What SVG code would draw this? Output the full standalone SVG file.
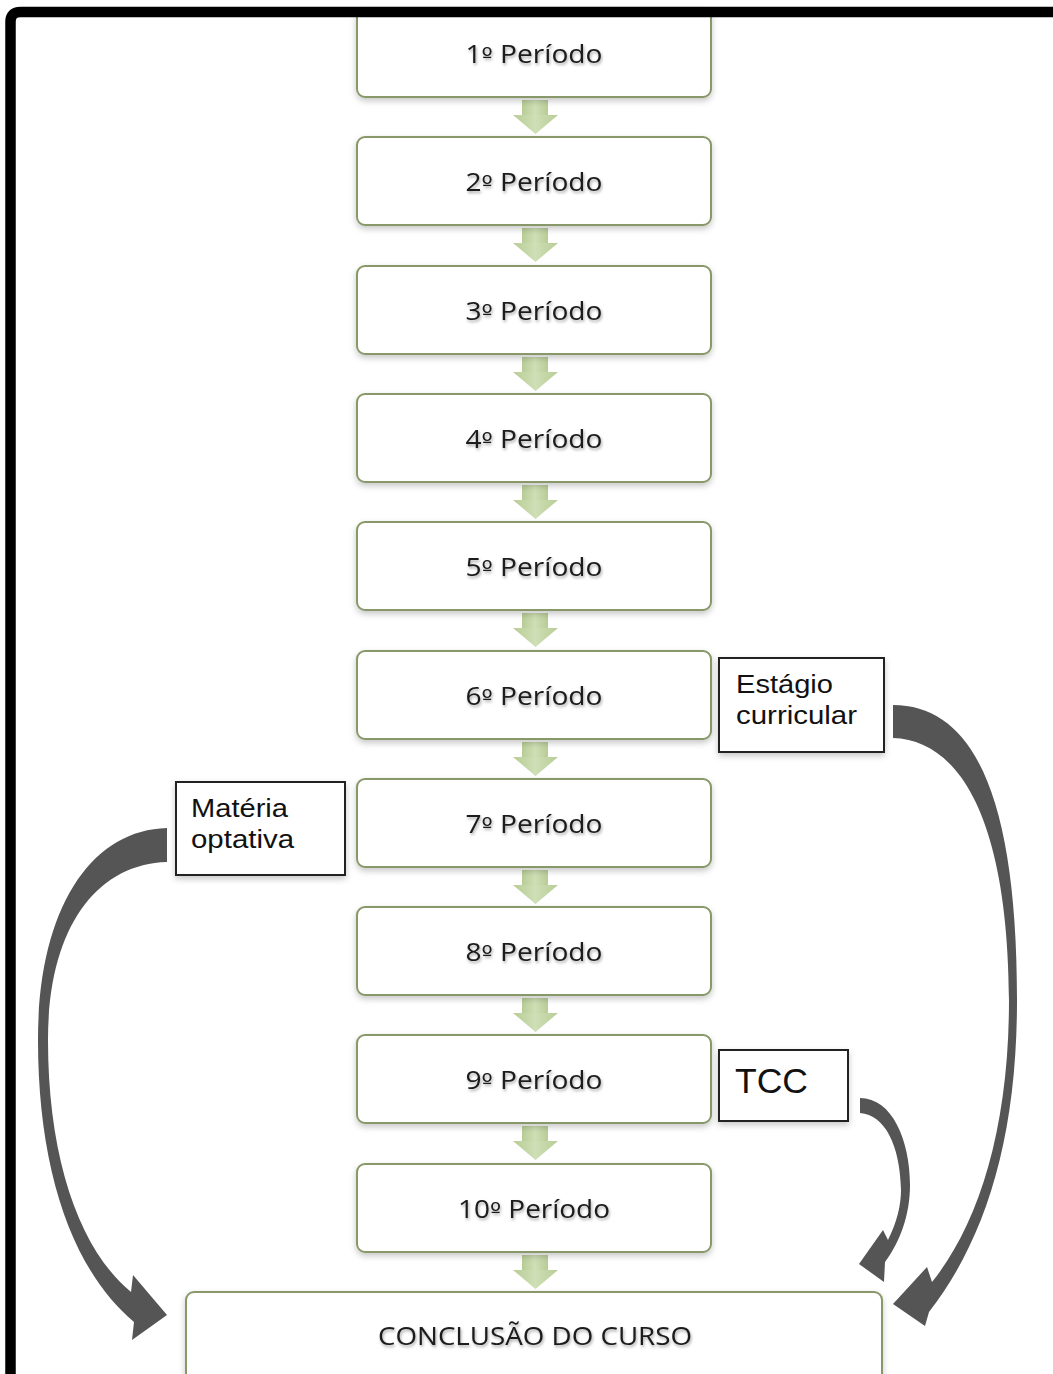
<svg xmlns="http://www.w3.org/2000/svg" width="1053" height="1374" viewBox="0 0 1053 1374">
<defs>
<filter id="sh" x="-10%" y="-10%" width="120%" height="130%">
<feDropShadow dx="0" dy="3" stdDeviation="3" flood-color="#000" flood-opacity="0.22"/>
</filter>
<filter id="tsh" x="-10%" y="-30%" width="120%" height="160%">
<feDropShadow dx="1" dy="2" stdDeviation="1.5" flood-color="#000" flood-opacity="0.35"/>
</filter>
<linearGradient id="gg" x1="0" y1="0" x2="1" y2="0">
<stop offset="0" stop-color="#b7cc95"/>
<stop offset="0.5" stop-color="#cfdfb6"/>
<stop offset="1" stop-color="#b7cc95"/>
</linearGradient>
<g id="garrow">
<rect x="522" y="3" width="26" height="16" fill="url(#gg)"/>
<polygon points="513,18 558,18 535.5,37" fill="url(#gg)"/>
</g>
</defs>
<style>
.pbox{fill:#fff;stroke:#889868;stroke-width:2;}
.ptxt{font-family:"Open Sans","Noto Sans",sans-serif;font-size:26px;fill:#1a1a1a;text-anchor:middle;}
.ord{font-family:"DejaVu Sans",sans-serif;font-size:22px;}
.sbox{fill:#fff;stroke:#222;stroke-width:2;}
.stxt{font-family:"Liberation Sans",Arial,sans-serif;font-size:25px;fill:#111;}
.carrow{fill:#555;}
</style>
<rect x="0" y="0" width="1053" height="1374" fill="#fff"/>

<g id="connectors">
<use href="#garrow" y="97"/>
<use href="#garrow" y="225"/>
<use href="#garrow" y="354"/>
<use href="#garrow" y="482"/>
<use href="#garrow" y="610"/>
<use href="#garrow" y="739"/>
<use href="#garrow" y="867"/>
<use href="#garrow" y="995"/>
<use href="#garrow" y="1123"/>
<use href="#garrow" y="1252"/>
<path class="carrow" d="M167,828 C90,830 38,910 38,1040 C38,1170 72,1270 134,1322 L132,1340 L167,1315 L133,1275 L131,1292 C80,1250 48,1160 48,1040 C48,930 95,864 167,862 Z"/>
<path class="carrow" d="M893,705 C975,705 1017,800 1017,1000 C1017,1140 985,1240 929,1312 L925,1326 L893,1304 L927,1267 L932,1282 C978,1225 1009,1130 1009,1000 C1008,820 960,740 893,738 Z"/>
<path class="carrow" d="M860,1098 C892,1098 910,1140 910,1185 C910,1215 900,1242 885,1262 L884,1282 L859,1264 L883,1230 L888,1240 C897,1222 901,1205 901,1190 C900,1145 885,1115 860,1113 Z"/>
</g>

<g id="p1"><rect class="pbox" x="357" y="9" width="354" height="88" rx="8" filter="url(#sh)"/><text class="ptxt" x="534" y="63" textLength="137" lengthAdjust="spacingAndGlyphs" filter="url(#tsh)">1<tspan class="ord">º</tspan> Período</text></g>
<g id="p2"><rect class="pbox" x="357" y="137" width="354" height="88" rx="8" filter="url(#sh)"/><text class="ptxt" x="534" y="191" textLength="137" lengthAdjust="spacingAndGlyphs" filter="url(#tsh)">2<tspan class="ord">º</tspan> Período</text></g>
<g id="p3"><rect class="pbox" x="357" y="266" width="354" height="88" rx="8" filter="url(#sh)"/><text class="ptxt" x="534" y="320" textLength="137" lengthAdjust="spacingAndGlyphs" filter="url(#tsh)">3<tspan class="ord">º</tspan> Período</text></g>
<g id="p4"><rect class="pbox" x="357" y="394" width="354" height="88" rx="8" filter="url(#sh)"/><text class="ptxt" x="534" y="448" textLength="137" lengthAdjust="spacingAndGlyphs" filter="url(#tsh)">4<tspan class="ord">º</tspan> Período</text></g>
<g id="p5"><rect class="pbox" x="357" y="522" width="354" height="88" rx="8" filter="url(#sh)"/><text class="ptxt" x="534" y="576" textLength="137" lengthAdjust="spacingAndGlyphs" filter="url(#tsh)">5<tspan class="ord">º</tspan> Período</text></g>
<g id="p6"><rect class="pbox" x="357" y="651" width="354" height="88" rx="8" filter="url(#sh)"/><text class="ptxt" x="534" y="705" textLength="137" lengthAdjust="spacingAndGlyphs" filter="url(#tsh)">6<tspan class="ord">º</tspan> Período</text></g>
<g id="p7"><rect class="pbox" x="357" y="779" width="354" height="88" rx="8" filter="url(#sh)"/><text class="ptxt" x="534" y="833" textLength="137" lengthAdjust="spacingAndGlyphs" filter="url(#tsh)">7<tspan class="ord">º</tspan> Período</text></g>
<g id="p8"><rect class="pbox" x="357" y="907" width="354" height="88" rx="8" filter="url(#sh)"/><text class="ptxt" x="534" y="961" textLength="137" lengthAdjust="spacingAndGlyphs" filter="url(#tsh)">8<tspan class="ord">º</tspan> Período</text></g>
<g id="p9"><rect class="pbox" x="357" y="1035" width="354" height="88" rx="8" filter="url(#sh)"/><text class="ptxt" x="534" y="1089" textLength="137" lengthAdjust="spacingAndGlyphs" filter="url(#tsh)">9<tspan class="ord">º</tspan> Período</text></g>
<g id="p10"><rect class="pbox" x="357" y="1164" width="354" height="88" rx="8" filter="url(#sh)"/><text class="ptxt" x="534" y="1218" textLength="152" lengthAdjust="spacingAndGlyphs" filter="url(#tsh)">10<tspan class="ord">º</tspan> Período</text></g>
<g id="conclusao"><rect class="pbox" x="186" y="1292" width="696" height="110" rx="8" filter="url(#sh)"/><text class="ptxt" x="535" y="1345" style="font-size:25px" textLength="314" lengthAdjust="spacingAndGlyphs" filter="url(#tsh)">CONCLUSÃO DO CURSO</text></g>

<g id="estagio"><rect class="sbox" x="719" y="658" width="165" height="94" filter="url(#sh)"/><text class="stxt" x="736" y="693" textLength="97" lengthAdjust="spacingAndGlyphs">Estágio</text><text class="stxt" x="736" y="724" textLength="121" lengthAdjust="spacingAndGlyphs">curricular</text></g>
<g id="materia"><rect class="sbox" x="176" y="782" width="169" height="93" filter="url(#sh)"/><text class="stxt" x="191" y="817" textLength="97" lengthAdjust="spacingAndGlyphs">Matéria</text><text class="stxt" x="191" y="848" textLength="103" lengthAdjust="spacingAndGlyphs">optativa</text></g>
<g id="tcc"><rect class="sbox" x="719" y="1050" width="129" height="71" filter="url(#sh)"/><text class="stxt" x="735" y="1093" style="font-size:35px" textLength="73" lengthAdjust="spacingAndGlyphs">TCC</text></g>

<path d="M10.5,1374 L10.5,22 Q10.5,12 20.5,12 L1053,12" fill="none" stroke="#000" stroke-width="10.5"/>
</svg>
